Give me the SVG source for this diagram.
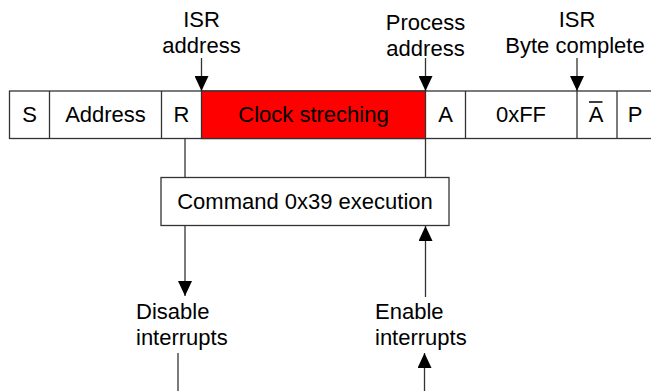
<svg xmlns="http://www.w3.org/2000/svg" width="651" height="391" viewBox="0 0 651 391">
  <style>
    text { font-family: "Liberation Sans", Arial, sans-serif; font-size: 22px; fill: #000; }
    .c { text-anchor: middle; }
    .box { fill: #fff; stroke: #333; stroke-width: 1.3; }
    .red { fill: #ff0000; stroke: #333; stroke-width: 1.3; }
    .ln { fill: none; stroke: #333; stroke-width: 1.3; }
  </style>
  <defs>
    <marker id="arr" viewBox="0 0 15 14" refX="15" refY="7" markerWidth="15" markerHeight="14" orient="auto" markerUnits="userSpaceOnUse">
      <path d="M0,0 L15,7 L0,14 z" fill="#000"/>
    </marker>
  </defs>

  <g id="frame-row">
    <rect class="box" x="9.5" y="91" width="645" height="47.5"/>
    <rect class="red" x="201.5" y="91" width="224" height="47.5"/>
    <line class="ln" x1="49.5" y1="91" x2="49.5" y2="138.5"/>
    <line class="ln" x1="161.5" y1="91" x2="161.5" y2="138.5"/>
    <line class="ln" x1="465.5" y1="91" x2="465.5" y2="138.5"/>
    <line class="ln" x1="577" y1="91" x2="577" y2="138.5"/>
    <line class="ln" x1="617" y1="91" x2="617" y2="138.5"/>
  </g>
  <g id="cell-S"><text class="c" x="29.5" y="122">S</text></g>
  <g id="cell-address"><text class="c" x="105.5" y="122">Address</text></g>
  <g id="cell-R"><text class="c" x="181.5" y="122">R</text></g>
  <g id="cell-clock"><text class="c" x="313.5" y="122">Clock streching</text></g>
  <g id="cell-A"><text class="c" x="445.5" y="122">A</text></g>
  <g id="cell-0xFF"><text class="c" x="521" y="122">0xFF</text></g>
  <g id="cell-nA">
    <text class="c" x="596" y="122">A</text>
    <line x1="589" y1="102" x2="602.5" y2="102" stroke="#000" stroke-width="1.5"/>
  </g>
  <g id="cell-P"><text class="c" x="635" y="122">P</text></g>

  <g id="label-isr-address">
    <text class="c" x="201.5" y="27">ISR</text>
    <text class="c" x="201.5" y="53">address</text>
  </g>
  <g id="label-process-address">
    <text class="c" x="425.5" y="30">Process</text>
    <text class="c" x="425.5" y="56">address</text>
  </g>
  <g id="label-isr-byte">
    <text class="c" x="577" y="27">ISR</text>
    <text class="c" x="575" y="53">Byte complete</text>
  </g>

  <g id="command">
    <rect class="box" x="161" y="177.5" width="288" height="48"/>
    <text class="c" x="305" y="208.5">Command 0x39 execution</text>
  </g>

  <g id="disable">
    <text x="136" y="318.5">Disable</text>
    <text x="136" y="344.5">interrupts</text>
  </g>
  <g id="enable">
    <text x="375" y="318.5">Enable</text>
    <text x="375" y="344.5">interrupts</text>
  </g>

  <g id="connectors">
    <path class="ln" d="M201.5,58 V91" marker-end="url(#arr)"/>
    <path class="ln" d="M425.5,58 V91" marker-end="url(#arr)"/>
    <path class="ln" d="M577,58 V91" marker-end="url(#arr)"/>
    <path class="ln" d="M185,138.5 V177.5"/>
    <path class="ln" d="M425.5,138.5 V177.5"/>
    <path class="ln" d="M185,225.5 V296" marker-end="url(#arr)"/>
    <path class="ln" d="M425.5,297 V226" marker-end="url(#arr)"/>
    <path class="ln" d="M178,353 V391"/>
    <path class="ln" d="M424.5,391 V353" marker-end="url(#arr)"/>
  </g>
</svg>
